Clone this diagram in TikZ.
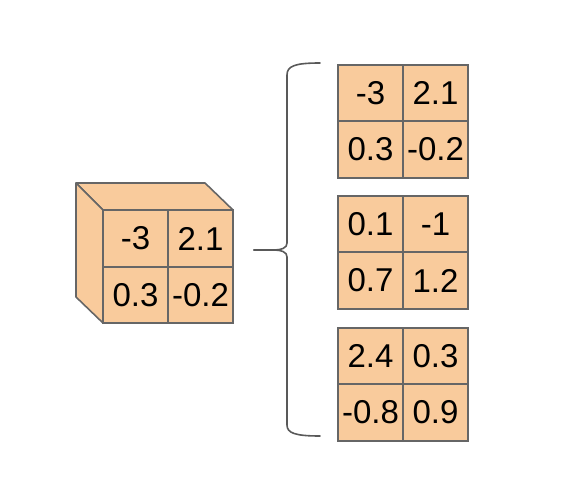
\documentclass[tikz,border=0pt]{standalone}
\usepackage{fontspec}
\setmainfont{Liberation Sans}
\usetikzlibrary{positioning}
\definecolor{cellfill}{HTML}{F9CB9C}
\definecolor{cellline}{HTML}{666666}
\definecolor{bracegray}{HTML}{595959}

\begin{document}
\begin{tikzpicture}[
  x=1pt,y=-1pt,
  cell/.style={draw=cellline,fill=cellfill,line width=1.6pt,minimum width=65pt,
    minimum height=56.5pt,inner sep=0pt,outer sep=0pt,
    font=\fontsize{33}{38}\selectfont},
  face/.style={draw=cellline,fill=cellfill,line width=1.6pt,line join=round},
  brace/.style={draw=bracegray,line width=1.6pt,line cap=round}
]
\useasboundingbox (0,0) rectangle (564,494);
% cube sides
\draw[face] (76,183) -- (205,183) -- (233,210) -- (103,210) -- cycle;
\draw[face] (76,183) -- (103,210) -- (103,323) -- (76,297) -- cycle;
% cube front
\node[cell] (c11) at (135.5,238.5) {-3};
\node[cell,right=0pt of c11] (c12) {2.1};
\node[cell,below=0pt of c11] (c21) {0.3};
\node[cell,right=0pt of c21] (c22) {-0.2};

% brace
\coordinate (tip) at (254,250);
\draw[brace] (tip) -- (272,250) .. controls (282,250) and (287,248) .. (287,243)
  -- (287,75) .. controls (287,66) and (295,63) .. (320,63);
\draw[brace] (tip) -- (272,250) .. controls (282,250) and (287,252) .. (287,257)
  -- (287,425) .. controls (287,433) and (295,436) .. (320,436);

% first slice
\node[cell] (a11) at (370.5,93) {-3};
\node[cell,right=0pt of a11] (a12) {2.1};
\node[cell,below=0pt of a11] (a21) {0.3};
\node[cell,right=0pt of a21] (a22) {-0.2};

% second slice
\node[cell] (b11) at (370.5,224) {0.1};
\node[cell,right=0pt of b11] (b12) {-1};
\node[cell,below=0pt of b11] (b21) {0.7};
\node[cell,right=0pt of b21] (b22) {1.2};

% third slice
\node[cell] (d11) at (370.5,356) {2.4};
\node[cell,right=0pt of d11] (d12) {0.3};
\node[cell,below=0pt of d11] (d21) {-0.8};
\node[cell,right=0pt of d21] (d22) {0.9};
\end{tikzpicture}
\end{document}
